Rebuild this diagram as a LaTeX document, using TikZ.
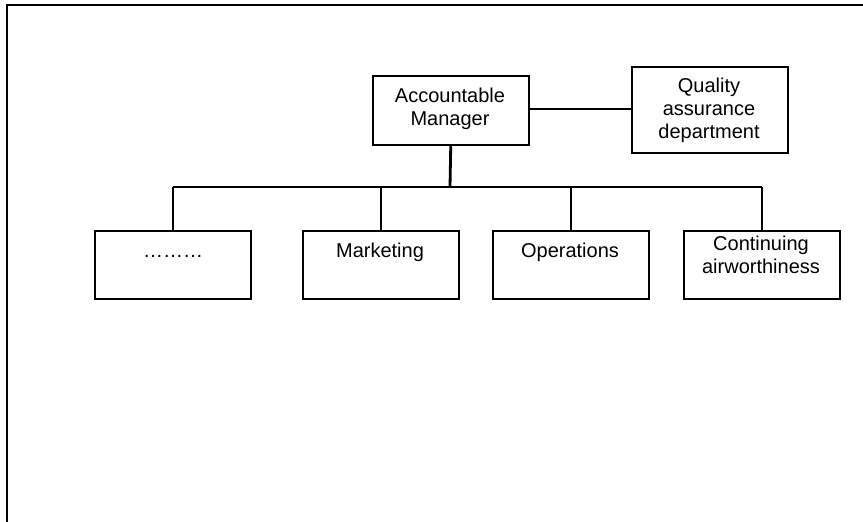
\documentclass[tikz,border=0pt]{standalone}
\usepackage{fontspec}
\setmainfont{Liberation Sans}
\begin{document}
\begin{tikzpicture}[x=1pt,y=-1pt,
  box/.style={draw, line width=1.5pt, rectangle, inner sep=0pt, anchor=north west, minimum width=156pt},
  lbl/.style={inner sep=0pt, align=center, anchor=base, font=\fontsize{20}{23}\selectfont},
  conn/.style={line width=1.5pt},
  busline/.style={line width=2.2pt},
  stem/.style={line width=2.8pt}]
\useasboundingbox (0,0) rectangle (863,522);
\draw[line width=1.6pt] (7,522) -- (7,5) -- (863,5);
% boxes
\node[box, minimum height=69pt] (am) at (372,75) {};
\node[box, minimum height=86pt] (qa) at (631,66) {};
\node[box, minimum height=68pt] (b1) at (94,230) {};
\node[box, minimum height=68pt] (b2) at (302,230) {};
\node[box, minimum height=68pt] (b3) at (492,230) {};
\node[box, minimum height=68pt] (b4) at (683,230) {};
% labels (base anchor = baseline of the last line)
\node[lbl] (amt) at (450,125) {Accountable\\Manager};
\node[lbl] (qat) at (709,138) {Quality\\assurance\\department};
\node[lbl] (b1t) at (173,257) {………};
\node[lbl] (b2t) at (380,257) {Marketing};
\node[lbl] (b3t) at (570,257) {Operations};
\node[lbl] (b4t) at (761,273) {Continuing\\airworthiness};
% connectors
\coordinate (bus) at (450,187);
\draw[conn] (am.east |- 0,109) -- (qa.west |- 0,109);
\draw[stem] (am.south) -- (bus);
\draw[busline] (b1.north |- bus) -- (b4.north |- bus);
\foreach \b in {b1,b2,b3,b4} \draw[conn] (\b.north) -- (\b.north |- bus);
\end{tikzpicture}
\end{document}
